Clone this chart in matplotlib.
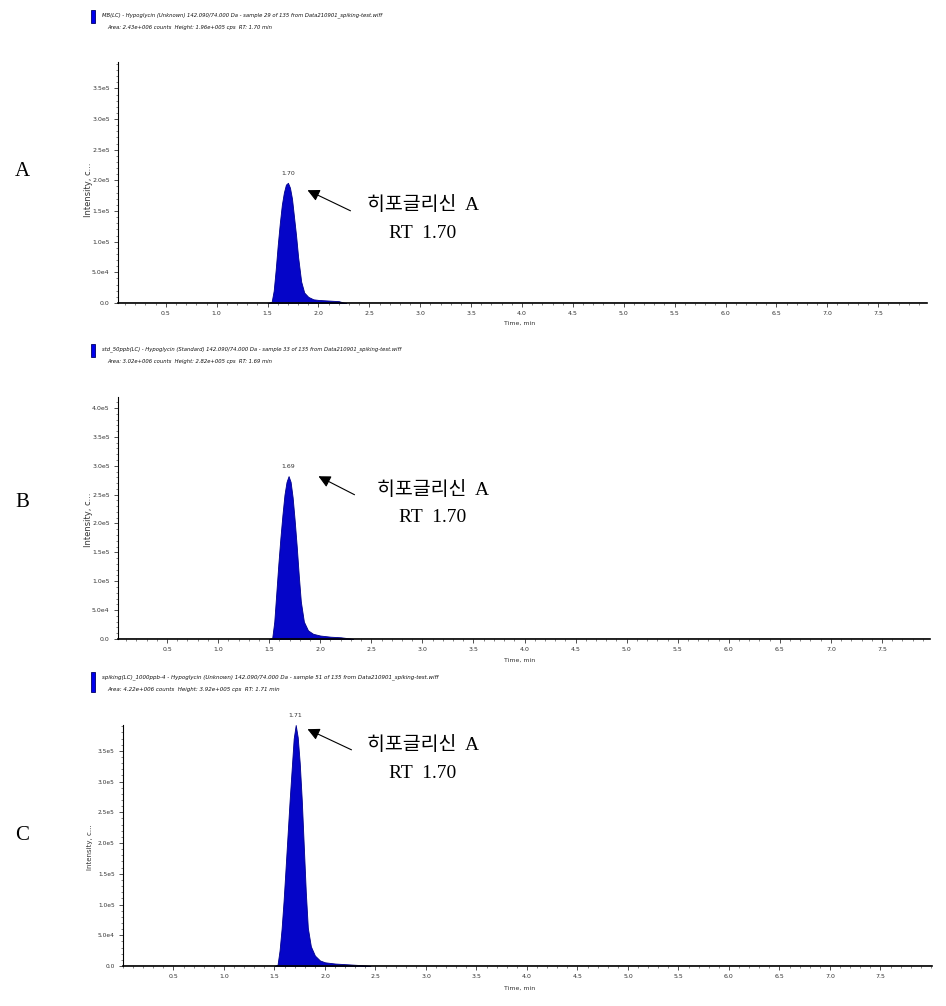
import matplotlib
matplotlib.use("Agg")
import matplotlib.pyplot as plt
from matplotlib.patches import Rectangle, FancyArrowPatch
from matplotlib.ticker import MultipleLocator

W, H = 946, 1006

# ---------------- data ----------------
panel_letters = ["A", "B", "C"]

header_line1 = [
    "MB(LC) - Hypoglycin (Unknown) 142.090/74.000 Da - sample 29 of 135 from Data210901_spiking-test.wiff",
    "std_50ppb(LC) - Hypoglycin (Standard) 142.090/74.000 Da - sample 33 of 135 from Data210901_spiking-test.wiff",
    "spiking(LC)_1000ppb-4 - Hypoglycin (Unknown) 142.090/74.000 Da - sample 51 of 135 from Data210901_spiking-test.wiff",
]
header_line2 = [
    "Area: 2.43e+006 counts  Height: 1.96e+005 cps  RT: 1.70 min",
    "Area: 3.02e+006 counts  Height: 2.82e+005 cps  RT: 1.69 min",
    "Area: 4.22e+006 counts  Height: 3.92e+005 cps  RT: 1.71 min",
]
peak_labels = ["1.70", "1.69", "1.71"]
compound_label = "히포글리신  A"
rt_label = "RT  1.70"

time_a = [1.50, 1.54, 1.56, 1.58, 1.60, 1.62, 1.64, 1.66, 1.68, 1.70, 1.72, 1.74,
          1.76, 1.78, 1.80, 1.83, 1.86, 1.90, 1.95, 2.00, 2.10, 2.20, 2.24, 2.27]
inten_a = [0, 0.02e5, 0.2e5, 0.55e5, 0.95e5, 1.3e5, 1.6e5, 1.8e5, 1.93e5, 1.96e5, 1.88e5, 1.7e5,
           1.4e5, 1.1e5, 0.75e5, 0.35e5, 0.17e5, 0.1e5, 0.06e5, 0.05e5, 0.04e5, 0.03e5, 0.01e5, 0]

time_b = [1.50, 1.53, 1.55, 1.57, 1.59, 1.61, 1.63, 1.65, 1.67, 1.69, 1.71, 1.73,
          1.75, 1.77, 1.79, 1.81, 1.84, 1.88, 1.93, 2.00, 2.10, 2.20, 2.29, 2.32]
inten_b = [0, 0.02e5, 0.3e5, 0.8e5, 1.3e5, 1.75e5, 2.15e5, 2.5e5, 2.72e5, 2.82e5, 2.72e5, 2.45e5,
           2.05e5, 1.6e5, 1.1e5, 0.65e5, 0.3e5, 0.15e5, 0.09e5, 0.06e5, 0.04e5, 0.03e5, 0.01e5, 0]

time_c = [1.50, 1.53, 1.55, 1.57, 1.59, 1.61, 1.63, 1.65, 1.67, 1.69, 1.71, 1.73, 1.75,
          1.77, 1.79, 1.81, 1.83, 1.86, 1.90, 1.95, 2.00, 2.10, 2.20, 2.30, 2.40, 2.45]
inten_c = [0, 0.02e5, 0.25e5, 0.6e5, 1.06e5, 1.6e5, 2.15e5, 2.7e5, 3.2e5, 3.7e5, 3.92e5, 3.72e5, 3.3e5,
           2.7e5, 1.95e5, 1.2e5, 0.62e5, 0.32e5, 0.17e5, 0.09e5, 0.06e5, 0.04e5, 0.03e5, 0.02e5, 0.01e5, 0]

x_ticks = [0.5, 1.0, 1.5, 2.0, 2.5, 3.0, 3.5, 4.0, 4.5, 5.0, 5.5, 6.0, 6.5, 7.0, 7.5]
x_tick_labels = ["0.5", "1.0", "1.5", "2.0", "2.5", "3.0", "3.5", "4.0", "4.5",
                 "5.0", "5.5", "6.0", "6.5", "7.0", "7.5"]
y_ticks_ac = [0, 0.5e5, 1.0e5, 1.5e5, 2.0e5, 2.5e5, 3.0e5, 3.5e5]
y_labels_ac = ["0.0", "5.0e4", "1.0e5", "1.5e5", "2.0e5", "2.5e5", "3.0e5", "3.5e5"]
y_ticks_b = [0, 0.5e5, 1.0e5, 1.5e5, 2.0e5, 2.5e5, 3.0e5, 3.5e5, 4.0e5]
y_labels_b = ["0.0", "5.0e4", "1.0e5", "1.5e5", "2.0e5", "2.5e5", "3.0e5", "3.5e5", "4.0e5"]

times = [time_a, time_b, time_c]
intens = [inten_a, inten_b, inten_c]
yticks_all = [y_ticks_ac, y_ticks_b, y_ticks_ac]
ylabels_all = [y_labels_ac, y_labels_b, y_labels_ac]

# ---------------- layout (pixels) ----------------
boxes = [(118, 927, 62, 303), (118, 930, 397, 639), (123, 932, 725, 966)]
xlims = [(0.03, 7.98), (0.02, 7.97), (0.0, 8.01)]
ylims = [(0, 3.93e5), (0, 4.19e5), (0, 3.92e5)]
header_y = [(10, 23, 15, 28), (344, 357, 349, 362), (672, 692, 677, 689)]
header_fs = [3.8, 3.8, 4.0]
letter_y = [172, 502, 835]
ann = [  # text center x, line1 y, line2 y, arrow tail(x,y), arrow head(x,y)
    (423, 205, 233, (353, 212), (305, 189)),
    (433, 490, 518, (357, 496), (316, 475)),
    (423, 745, 773, (354, 751), (305, 728)),
]
ylabel_pos = [(88, 190), (88, 520), (90, 847)]
ylabel_fs = [6, 6, 5]
xlabel_y = [323, 660, 988]

fig = plt.figure(figsize=(W / 100, H / 100), dpi=100)


def fx(x):
    return x / W


def fy(y):
    return 1 - y / H


serif_kr = ["Liberation Serif", "Noto Sans CJK KR"]
blue = "#0505C8"

for i in range(3):
    l, r, t, b = boxes[i]
    ax = fig.add_axes([fx(l), fy(b), (r - l) / W, (b - t) / H])
    ax.fill_between(times[i], intens[i], 0, color=blue, linewidth=0.6, edgecolor="#00008B")
    ax.plot([xlims[i][0], xlims[i][1]], [0, 0], color="#202020", lw=1.0)
    ax.set_xlim(*xlims[i])
    ax.set_ylim(*ylims[i])
    for s in ["top", "right"]:
        ax.spines[s].set_visible(False)
    ax.spines["left"].set_linewidth(0.8)
    ax.spines["bottom"].set_linewidth(1.2)
    ax.set_xticks(x_ticks)
    ax.set_xticklabels(x_tick_labels, fontsize=4.5, color="#333333")
    ax.set_yticks(yticks_all[i])
    ax.set_yticklabels(ylabels_all[i], fontsize=4.5 if i < 2 else 4.2, color="#333333")
    ax.xaxis.set_minor_locator(MultipleLocator(0.1))
    ax.yaxis.set_minor_locator(MultipleLocator(0.1e5))
    ax.tick_params(axis="both", which="major", length=3, width=0.6, pad=3, color="#333333")
    ax.tick_params(axis="both", which="minor", length=1.5, width=0.5, color="#555555")

    # peak RT label
    k = intens[i].index(max(intens[i]))
    ax.text(times[i][k], intens[i][k] + 0.03 * ylims[i][1], peak_labels[i],
            ha="center", va="bottom", fontsize=4.5, color="#333333")

    # axis labels
    fig.text(fx(ylabel_pos[i][0]), fy(ylabel_pos[i][1]), "Intensity, c...", rotation=90,
             ha="center", va="center", fontsize=ylabel_fs[i], color="#333333")
    fig.text(fx(520), fy(xlabel_y[i]), "Time, min", ha="center", va="center",
             fontsize=4.5, color="#333333")

    # header
    y0, y1, t1, t2 = header_y[i]
    fig.patches.append(Rectangle((fx(91), fy(y1)), 4 / W, (y1 - y0) / H,
                                 transform=fig.transFigure, facecolor="#0000EE",
                                 edgecolor="#000066", linewidth=0.6))
    fig.text(fx(102), fy(t1), header_line1[i], ha="left", va="center", fontsize=header_fs[i],
             style="italic", color="#111111")
    fig.text(fx(107), fy(t2), header_line2[i], ha="left", va="center", fontsize=header_fs[i],
             style="italic", color="#111111")

    # panel letter
    fig.text(fx(22), fy(letter_y[i]), panel_letters[i], ha="center", va="center",
             fontsize=15, family=serif_kr)

    # annotation
    cx, ly1, ly2, tail, head = ann[i]
    fig.text(fx(cx), fy(ly1), compound_label, ha="center", va="center", fontsize=14,
             family=serif_kr)
    fig.text(fx(cx), fy(ly2), rt_label, ha="center", va="center", fontsize=14,
             family=serif_kr)
    fig.patches.append(FancyArrowPatch(
        (fx(tail[0]), fy(tail[1])), (fx(head[0]), fy(head[1])),
        transform=fig.transFigure, arrowstyle="-|>", mutation_scale=18,
        color="black", linewidth=0.8))

fig.savefig("out.png", dpi=100, facecolor="white")
